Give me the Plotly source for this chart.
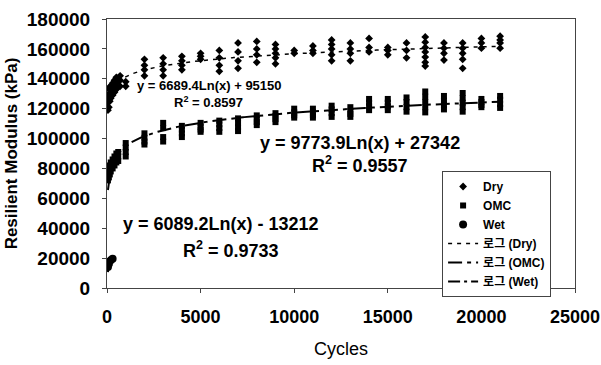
import numpy as np
import plotly.graph_objects as go

# ---------------- data ----------------
dry_cycles = [50, 50, 50, 100, 100, 100, 100, 150, 150, 150, 200, 200, 200,
              300, 300, 300, 400, 400, 400, 500, 500, 500, 700, 700, 700, 1000, 1000,
              2000, 2000, 2000, 2000,
              3000, 3000, 3000, 3000,
              4000, 4000, 4000, 4000,
              5000, 5000, 5000,
              6000, 6000, 6000, 6000,
              7000, 7000, 7000, 7000,
              8000, 8000, 8000, 8000,
              9000, 9000, 9000, 9000, 9000,
              10000, 10000,
              11000, 11000, 11000,
              12000, 12000, 12000, 12000, 12000,
              13000, 13000, 13000, 13000,
              14000, 14000, 14000,
              15000, 15000, 15000,
              16000, 16000, 16000,
              17000, 17000, 17000, 17000, 17000, 17000, 17000,
              18000, 18000, 18000, 18000,
              19000, 19000, 19000, 19000, 19000,
              20000, 20000, 20000,
              21000, 21000, 21000, 21000]
dry_modulus = [119000, 124000, 128000, 121000, 126000, 130000, 134000, 125000, 129000, 133000,
               127000, 131000, 135000, 129000, 133000, 137000, 131000, 135000, 139000,
               133000, 137000, 141000, 135000, 139000, 142000, 138000, 135000,
               153000, 149000, 146000, 142000,
               154000, 150000, 146000, 142000,
               155000, 152000, 149000, 146000,
               157000, 155000, 153000,
               159000, 154000, 149000, 145000,
               164000, 158000, 152000, 147000,
               165000, 160000, 156000, 151000,
               163000, 160000, 157000, 154000, 150000,
               159000, 157000,
               162000, 159000, 157000,
               166000, 163000, 160000, 156000, 152000,
               164000, 160000, 157000, 152000,
               167000, 161000, 158000,
               161000, 159000, 156000,
               164000, 159000, 154000,
               168000, 164500, 161000, 158000, 154500, 151000, 148500,
               164000, 160500, 157000, 152500,
               164000, 160500, 157000, 153000, 147000,
               167000, 164000, 160500,
               168500, 166000, 164000, 160500]

omc_cycles = [50, 50, 50, 100, 100, 100, 150, 150, 150, 200, 200, 200,
              300, 300, 300, 400, 400, 400, 500, 500, 500, 600, 600, 600,
              1000, 1000, 1000, 1000,
              2000, 2000, 2000, 2000,
              3000, 3000, 3000, 3000,
              4000, 4000, 4000, 4000,
              5000, 5000, 5000, 5000,
              6000, 6000, 6000, 6000,
              7000, 7000, 7000, 7000,
              8000, 8000, 8000, 8000,
              9000, 9000, 9000, 9000,
              10000, 10000, 10000, 10000,
              11000, 11000, 11000, 11000,
              12000, 12000, 12000, 12000,
              13000, 13000, 13000, 13000,
              14000, 14000, 14000, 14000,
              15000, 15000, 15000, 15000,
              16000, 16000, 16000, 16000,
              17000, 17000, 17000, 17000, 17000,
              18000, 18000, 18000, 18000,
              19000, 19000, 19000, 19000, 19000,
              20000, 20000, 20000, 20000,
              21000, 21000, 21000, 21000]
omc_modulus = [72000, 75000, 78000, 74000, 77000, 80000, 76000, 79000, 82000,
               78000, 81000, 84000, 80000, 83000, 86000, 82000, 85000, 88000,
               84000, 87000, 90000, 85000, 88000, 91000,
               97000, 94000, 91000, 88000,
               103500, 100500, 98000, 96000,
               110500, 107000, 101000, 98000,
               108500, 106000, 103500, 101000,
               110500, 108000, 106000, 104500,
               112000, 109500, 107000, 104500,
               113500, 110500, 107500, 105000,
               115500, 113000, 111000, 109000,
               117000, 115000, 113000, 111000,
               120000, 117500, 115500, 114000,
               120000, 117500, 115500, 114000,
               122000, 119500, 117000, 114500,
               121000, 118500, 116500, 114500,
               126500, 124000, 121500, 119000,
               126500, 124000, 121500, 119000,
               127500, 124500, 121000, 118000,
               131500, 128000, 124500, 121000, 117500,
               128500, 125500, 122500, 119500,
               130500, 127000, 124000, 121000, 118000,
               126500, 124500, 122500, 121000,
               128500, 126000, 123000, 120500]

wet_cycles = [50, 50, 100, 100, 200, 300]
wet_modulus = [14000, 15500, 16000, 17500, 18500, 19500]

# log trend coefficients as printed on the chart: y = a*Ln(x) + b
dry_fit = (6689.4, 95150, 0.8597)
omc_fit = (9773.9, 27342, 0.9557)
wet_fit = (6089.2, -13212, 0.9733)

x_ticks = [0, 5000, 10000, 15000, 20000, 25000]
y_ticks = [0, 20000, 40000, 60000, 80000, 100000, 120000, 140000, 160000, 180000]

FONT = "Liberation Sans, Arial, Noto Sans CJK KR, sans-serif"


def trend(xs, fit):
    xx = np.linspace(min(xs), max(xs), 300)
    return xx, fit[0] * np.log(xx) + fit[1]


fig = go.Figure()
fig.add_trace(go.Scatter(x=dry_cycles, y=dry_modulus, mode="markers", name="Dry",
                         marker=dict(symbol="diamond", size=6, color="black")))
fig.add_trace(go.Scatter(x=omc_cycles, y=omc_modulus, mode="markers", name="OMC",
                         marker=dict(symbol="square", size=6, color="black")))
fig.add_trace(go.Scatter(x=wet_cycles, y=wet_modulus, mode="markers", name="Wet",
                         marker=dict(symbol="circle", size=8, color="black")))

tx, ty = trend(dry_cycles, dry_fit)
fig.add_trace(go.Scatter(x=tx, y=ty, mode="lines", name="로그 (Dry)",
                         line=dict(color="black", width=1.5, dash="4px,5px")))
tx, ty = trend(omc_cycles, omc_fit)
fig.add_trace(go.Scatter(x=tx, y=ty, mode="lines", name="로그 (OMC)",
                         line=dict(color="black", width=2, dash="14px,5px,4px,5px")))
tx, ty = trend(wet_cycles, wet_fit)
fig.add_trace(go.Scatter(x=tx, y=ty, mode="lines", name="로그 (Wet)",
                         line=dict(color="black", width=2, dash="12px,4px,3px,4px")))


def eq_text(fit):
    sign = "+" if fit[1] >= 0 else "-"
    return f"y = {fit[0]}Ln(x) {sign} {abs(fit[1])}", f"R<sup>2</sup> = {fit[2]}"


anns = []
for fit, (ex, ey), (rx, ry), size in [
    (dry_fit, (5500, 135500), (5400, 124500), 13),
    (omc_fit, (13500, 97300), (13500, 82500), 18),
    (wet_fit, (6100, 43000), (6600, 25500), 18),
]:
    e, r = eq_text(fit)
    anns.append(dict(x=ex, y=ey, text=e, showarrow=False, xref="x", yref="y",
                     font=dict(size=size, family=FONT, color="black", weight="bold")))
    anns.append(dict(x=rx, y=ry, text=r, showarrow=False, xref="x", yref="y",
                     font=dict(size=size, family=FONT, color="black", weight="bold")))

fig.update_layout(
    width=601, height=365,
    margin=dict(l=107, r=26, t=19, b=77),
    paper_bgcolor="white", plot_bgcolor="white",
    font=dict(family=FONT, color="black"),
    annotations=anns,
    showlegend=True,
    legend=dict(x=0.716, y=0.435, xanchor="left", yanchor="top",
                bgcolor="white", bordercolor="#444", borderwidth=1,
                font=dict(size=12, family=FONT, color="black", weight="bold"),
                tracegroupgap=0, itemwidth=30, entrywidth=92, entrywidthmode="pixels"),
)
fig.update_xaxes(range=[0, 25000], tickvals=x_ticks, ticktext=[str(v) for v in x_ticks],
                 automargin=False,
                 showgrid=False, zeroline=False, showline=True, linecolor="#444", linewidth=1,
                 mirror=True, ticks="outside", ticklen=4, tickcolor="#444",
                 ticklabelstandoff=8,
                 tickfont=dict(size=18, family=FONT, weight="bold"),
                 title=dict(text="Cycles", font=dict(size=18, family=FONT), standoff=16))
fig.update_yaxes(range=[0, 180000], tickvals=y_ticks, ticktext=[str(v) for v in y_ticks],
                 automargin=False,
                 showgrid=False, zeroline=False, showline=True, linecolor="#444", linewidth=1,
                 mirror=True, ticks="outside", ticklen=4, tickcolor="#444",
                 ticklabelstandoff=8,
                 tickfont=dict(size=19, family=FONT, weight="bold"),
                 title=dict(text="Resilient Modulus (kPa)",
                            font=dict(size=17, family=FONT, weight="bold"), standoff=4))

fig.write_html("out.html")
